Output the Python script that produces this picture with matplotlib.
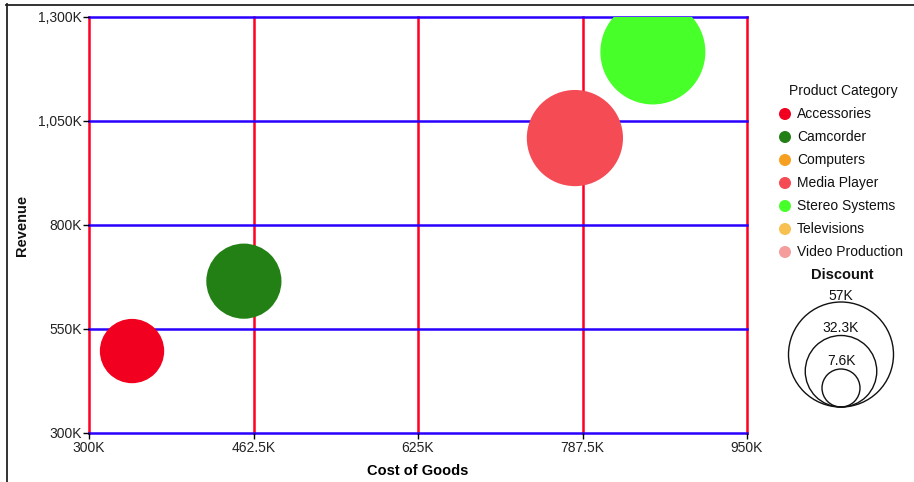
import matplotlib
matplotlib.use("Agg")
import matplotlib.pyplot as plt
from matplotlib.patches import Circle
import numpy as np

plt.rcParams['font.family'] = ['Liberation Sans', 'DejaVu Sans']

# Data
categories = ["Accessories", "Camcorder", "Media Player", "Stereo Systems"]
cost_of_goods = [342.5, 453, 780, 857]      # K
revenue = [497, 665, 1009, 1216]            # K
discount = [27.0, 35.0, 50.5, 57.0]         # K

legend_categories = ["Accessories", "Camcorder", "Computers", "Media Player",
                     "Stereo Systems", "Televisions", "Video Production"]
legend_colors = ["#F2001F", "#238014", "#F5A020", "#F54B55",
                 "#47FF29", "#F8C050", "#F59C9C"]
size_legend_values = [57, 32.3, 7.6]
size_legend_labels = ["57K", "32.3K", "7.6K"]

x_ticks = [300, 462.5, 625, 787.5, 950]
x_tick_labels = ["300K", "462.5K", "625K", "787.5K", "950K"]
y_ticks = [300, 550, 800, 1050, 1300]
y_tick_labels = ["300K", "550K", "800K", "1,050K", "1,300K"]

W, H, DPI = 914, 482, 100
fig = plt.figure(figsize=(W / DPI, H / DPI), dpi=DPI)

# Plot area pixel bounds
L, R, T, B = 89, 747, 17, 433
ax = fig.add_axes([L / W, 1 - B / H, (R - L) / W, (B - T) / H])
ax.set_xlim(300, 950)
ax.set_ylim(300, 1300)

# radius (px) as a linear function of discount between legend min and max
R_MIN, R_MAX = 19.0, 52.5
V_MIN, V_MAX = min(size_legend_values), max(size_legend_values)
def radius_px(v):
    return R_MIN + (v - V_MIN) * (R_MAX - R_MIN) / (V_MAX - V_MIN)

for x in x_ticks:
    ax.axvline(x, color="#FF0022", lw=1.8, zorder=1, clip_on=False)
for y in y_ticks:
    ax.axhline(y, color="#2A00FF", lw=1.8, zorder=1, clip_on=False)

color_map = dict(zip(legend_categories, legend_colors))
sizes = [(2 * radius_px(d) * 72 / DPI) ** 2 for d in discount]
ax.scatter(cost_of_goods, revenue, s=sizes,
           c=[color_map[c] for c in categories], edgecolors='none', zorder=3)

for s in ax.spines.values():
    s.set_visible(False)
ax.set_xticks(x_ticks)
ax.set_xticklabels(x_tick_labels, fontsize=10)
ax.set_yticks(y_ticks)
ax.set_yticklabels(y_tick_labels, fontsize=10)
ax.tick_params(axis='both', length=4, width=1, color='black', pad=1, labelcolor='#222222')
ax.tick_params(axis='x', pad=2)
ax.set_xlabel("Cost of Goods", fontsize=10.5, fontweight='bold', labelpad=6)

# Overlay for legend and border (pixel coordinates)
ov = fig.add_axes([0, 0, 1, 1], zorder=5)
ov.set_xlim(0, W)
ov.set_ylim(H, 0)
ov.axis('off')
ov.patch.set_alpha(0)

# border
ov.plot([6, W], [4.5, 4.5], color='#222222', lw=1.3)
ov.plot([6.5, 6.5], [4, H], color='#222222', lw=1.3)

ov.text(22, 225, "Revenue", fontsize=10.5, fontweight='bold', rotation=90,
        ha='center', va='center', color='#111111')

ov.text(843, 91, "Product Category", fontsize=10, ha='center', va='center', color='#111111')
for i, (cat, col) in enumerate(zip(legend_categories, legend_colors)):
    yy = 114 + i * 23
    ov.add_patch(Circle((785, yy), 6, color=col, lw=0))
    ov.text(797, yy, cat, fontsize=10, ha='left', va='center', color='#111111')

ov.text(842, 275, "Discount", fontsize=10.5, fontweight='bold', ha='center', va='center', color='#111111')
base_y = 407
cx = 841
for i, (v, lab) in enumerate(zip(size_legend_values, size_legend_labels)):
    r = radius_px(v)
    ov.add_patch(Circle((cx, base_y - r), r, fill=False, ec='#111111', lw=1))
    ov.text(cx, 296 + 32.5 * i, lab, fontsize=10, ha='center', va='center', color='#111111')

fig.savefig("out.png", dpi=DPI)
